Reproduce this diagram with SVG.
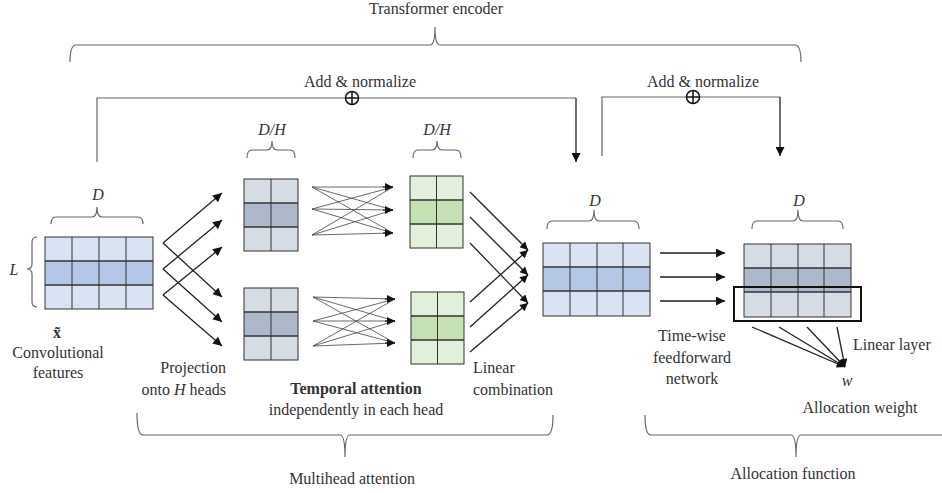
<svg xmlns="http://www.w3.org/2000/svg" width="942" height="493" viewBox="0 0 942 493" font-family="'Liberation Serif', 'DejaVu Serif', 'Times New Roman', serif">
<defs>
<style>
text{font-family:'Liberation Serif','DejaVu Serif','Times New Roman',serif;font-size:16px;fill:#333}
.it{font-style:italic}
.mid{text-anchor:middle}
.brace{fill:none;stroke:#666;stroke-width:1.2}
.skip{fill:none;stroke:#666;stroke-width:1.2}
.arr{fill:none;stroke:#222;stroke-width:1.3}
.thin{fill:none;stroke:#444;stroke-width:0.8}
.grid{fill:none;stroke:#333;stroke-width:1}
.rowl{stroke:#333;stroke-width:1.5}
.bl{fill:#dae3f3}.bm{fill:#b4c7e7}
.gl{fill:#d6dce4}.gm{fill:#adb9ca}
.el{fill:#e2efda}.em{fill:#c5e0b4}
</style>
<marker id="ah" viewBox="0 0 10 10" refX="10" refY="5" markerWidth="10" markerHeight="9" markerUnits="userSpaceOnUse" orient="auto"><path d="M0,0 L10,5 L0,10 z" fill="#111"/></marker>
<marker id="ahs" viewBox="0 0 10 10" refX="10" refY="5" markerWidth="9" markerHeight="8" markerUnits="userSpaceOnUse" orient="auto"><path d="M0,0 L10,5 L0,10 z" fill="#111"/></marker>
</defs>

<g id="transformer-encoder">
<path class="brace" d="M70,62 Q70,45 76,45 L430,45 Q435,45 435,27 Q435,45 440,45 L795,45 Q801,45 801,62"/>
<text class="mid" x="436" y="14">Transformer encoder</text>
</g>

<g id="skip-connections">
<path class="skip" d="M97,162 L97,98 L576,98"/>
<path class="arr" d="M576,98 L576,162" marker-end="url(#ah)"/>
<circle cx="352" cy="98" r="6.5" fill="#fff" stroke="#111" stroke-width="1.5"/>
<path d="M345.5,98 H358.5 M352,91.5 V104.5" stroke="#111" stroke-width="1.5"/>
<text class="mid" x="360" y="87">Add &amp; normalize</text>
<path class="skip" d="M602,156 L602,97 L780,97"/>
<path class="arr" d="M780,97 L780,156" marker-end="url(#ah)"/>
<circle cx="693" cy="97" r="6.5" fill="#fff" stroke="#111" stroke-width="1.5"/>
<path d="M686.5,97 H699.5 M693,90.5 V103.5" stroke="#111" stroke-width="1.5"/>
<text class="mid" x="703" y="87">Add &amp; normalize</text>
</g>

<g id="input-features">
<rect class="bl" x="45" y="237" width="108" height="24"/>
<rect class="bm" x="45" y="261" width="108" height="24"/>
<rect class="bl" x="45" y="285" width="108" height="24"/>
<path class="grid" d="M72,237V309M99,237V309M126,237V309"/>
<path class="rowl" d="M45,261H153M45,285H153"/>
<rect class="grid" x="45" y="237" width="108" height="72"/>
<path class="brace" d="M51,224 Q51,217 56,217 L92,217 Q97,217 97,207 Q97,217 102,217 L138,217 Q143,217 143,224"/>
<text class="mid it" x="98" y="200">D</text>
<path class="brace" d="M37,237 Q32,237 32,242 L32,264 Q32,269 27,269 Q32,269 32,274 L32,302 Q32,307 37,307"/>
<text class="mid it" x="14" y="275">L</text>
<text class="mid" x="57" y="338" font-weight="bold">x̃</text>
<text class="mid" x="58" y="358">Convolutional</text>
<text class="mid" x="58" y="378">features</text>
</g>

<g id="head-top">
<rect class="gl" x="244" y="179" width="54" height="24"/>
<rect class="gm" x="244" y="203" width="54" height="24"/>
<rect class="gl" x="244" y="227" width="54" height="24"/>
<path class="grid" d="M271,179V251" stroke="#666"/>
<path class="rowl" d="M244,203H298M244,227H298"/>
<rect class="grid" x="244" y="179" width="54" height="72"/>
<path class="brace" d="M247,158 Q247,150 252,150 L267,150 Q272,150 272,141 Q272,150 277,150 L290,150 Q295,150 295,158"/>
<text class="mid it" x="272" y="135">D/H</text>
</g>

<g id="head-bottom">
<rect class="gl" x="244" y="288" width="54" height="24"/>
<rect class="gm" x="244" y="312" width="54" height="24"/>
<rect class="gl" x="244" y="336" width="54" height="24"/>
<path class="grid" d="M271,288V360"/>
<path class="rowl" d="M244,312H298M244,336H298"/>
<rect class="grid" x="244" y="288" width="54" height="72"/>
</g>

<g id="attention-top">
<rect class="el" x="410" y="176" width="53" height="24"/>
<rect class="em" x="410" y="200" width="53" height="24"/>
<rect class="el" x="410" y="224" width="53" height="24"/>
<path class="grid" d="M436.5,176V248"/>
<path class="rowl" d="M410,200H463M410,224H463"/>
<rect class="grid" x="410" y="176" width="53" height="72"/>
<path class="brace" d="M413,158 Q413,150 418,150 L432,150 Q437,150 437,141 Q437,150 442,150 L456,150 Q461,150 461,158"/>
<text class="mid it" x="437" y="135">D/H</text>
</g>

<g id="attention-bottom">
<rect class="el" x="411" y="292" width="53" height="24"/>
<rect class="em" x="411" y="316" width="53" height="24"/>
<rect class="el" x="411" y="340" width="53" height="24"/>
<path class="grid" d="M437.5,292V364"/>
<path class="rowl" d="M411,316H464M411,340H464"/>
<rect class="grid" x="411" y="292" width="53" height="72"/>
</g>

<g id="combined">
<rect class="bl" x="543" y="243" width="107" height="24"/>
<rect class="bm" x="543" y="267" width="107" height="24"/>
<rect class="bl" x="543" y="291" width="107" height="25"/>
<path class="grid" d="M570,243V316M597,243V316M623,243V316"/>
<path class="rowl" d="M543,267H650M543,291H650"/>
<rect class="grid" x="543" y="243" width="107" height="73"/>
<path class="brace" d="M547,229 Q547,221 552,221 L589,221 Q594,221 594,210 Q594,221 599,221 L634,221 Q639,221 639,229"/>
<text class="mid it" x="595" y="206">D</text>
</g>

<g id="ffn-output">
<rect class="gl" x="744" y="244" width="107" height="24"/>
<rect class="gm" x="744" y="268" width="107" height="24"/>
<rect class="gl" x="744" y="292" width="107" height="25"/>
<path class="grid" d="M771,244V317M798,244V317M824,244V317" stroke="#555"/>
<path class="rowl" d="M744,268H851M744,292H851"/>
<rect class="grid" x="744" y="244" width="107" height="73"/>
<path class="brace" d="M752,229 Q752,221 757,221 L793,221 Q798,221 798,210 Q798,221 803,221 L838,221 Q843,221 843,229"/>
<text class="mid it" x="799" y="206">D</text>
<rect x="734" y="287" width="127" height="34" fill="none" stroke="#111" stroke-width="2"/>
</g>

<g id="allocation-weight">
<text class="mid it" x="847" y="386">w</text>
<text class="mid" x="860" y="413">Allocation weight</text>
<text x="853" y="350">Linear layer</text>
</g>

<g id="connectors">
<path class="arr" d="M163,243 L222,193" marker-end="url(#ah)"/>
<path class="arr" d="M163,243 L222,297" marker-end="url(#ah)"/>
<path class="arr" d="M163,269 L222,220" marker-end="url(#ah)"/>
<path class="arr" d="M163,269 L222,322" marker-end="url(#ah)"/>
<path class="arr" d="M163,295 L222,247" marker-end="url(#ah)"/>
<path class="arr" d="M163,295 L222,346" marker-end="url(#ah)"/>
<g class="thin">
<path d="M312,187L393,187M312,187L393,210M312,187L393,233M312,209L393,187M312,209L393,210M312,209L393,233M312,235L393,187M312,235L393,210M312,235L393,233"/>
<path d="M313,297L395,299M313,297L395,321M313,297L395,343M313,321L395,299M313,321L395,321M313,321L395,343M313,346L395,299M313,346L395,321M313,346L395,343"/>
</g>
<path class="arr" d="M383,187L393,187" marker-end="url(#ahs)"/>
<path class="arr" d="M383,210L393,210" marker-end="url(#ahs)"/>
<path class="arr" d="M383,233L393,233" marker-end="url(#ahs)"/>
<path class="arr" d="M385,299L395,299" marker-end="url(#ahs)"/>
<path class="arr" d="M385,321L395,321" marker-end="url(#ahs)"/>
<path class="arr" d="M385,343L395,343" marker-end="url(#ahs)"/>
<path class="arr" d="M470,192L528,250" marker-end="url(#ahs)"/>
<path class="arr" d="M470,217L528,275" marker-end="url(#ahs)"/>
<path class="arr" d="M470,243L528,303" marker-end="url(#ahs)"/>
<path class="arr" d="M470,302L528,250" marker-end="url(#ahs)"/>
<path class="arr" d="M470,327L528,275" marker-end="url(#ahs)"/>
<path class="arr" d="M470,352L528,303" marker-end="url(#ahs)"/>
<path class="arr" d="M660,253L725,253" marker-end="url(#ah)"/>
<path class="arr" d="M660,277L725,277" marker-end="url(#ah)"/>
<path class="arr" d="M660,301L725,301" marker-end="url(#ah)"/>
<path class="arr" d="M752,327L845,367" marker-end="url(#ahs)"/>
<path class="arr" d="M779,327L845,367" marker-end="url(#ahs)"/>
<path class="arr" d="M807,327L845,367" marker-end="url(#ahs)"/>
<path class="arr" d="M837,327L845,367" marker-end="url(#ahs)"/>
</g>

<g id="labels">
<text x="226" y="373" text-anchor="end">Projection</text>
<text x="226" y="395" text-anchor="end">onto <tspan class="it">H</tspan> heads</text>
<text class="mid" x="356" y="394" font-weight="bold">Temporal attention</text>
<text class="mid" x="356" y="415">independently in each head</text>
<text x="473" y="373">Linear</text>
<text x="473" y="395">combination</text>
<text class="mid" x="692" y="341">Time-wise</text>
<text class="mid" x="692" y="363">feedforward</text>
<text class="mid" x="692" y="384">network</text>
</g>

<g id="multihead-attention">
<path class="brace" d="M137,413 Q137,435 143,435 L340,435 Q345,435 345,457 Q345,435 350,435 L547,435 Q553,435 553,415"/>
<text class="mid" x="352" y="484">Multihead attention</text>
</g>

<g id="allocation-function">
<path class="brace" d="M645,415 Q645,435 651,435 L791,435 Q796,435 796,457 Q796,435 801,435 L950,435"/>
<text class="mid" x="793" y="479">Allocation function</text>
</g>
</svg>
